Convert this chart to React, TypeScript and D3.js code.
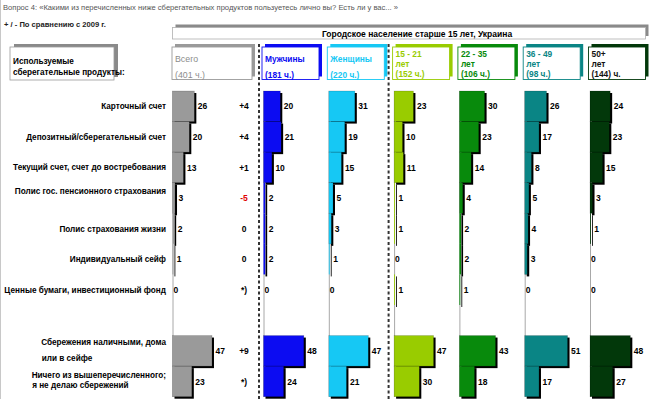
import React, { useEffect, useRef } from 'react';
import * as d3 from 'd3';

const question = 'Вопрос 4: «Какими из перечисленных ниже сберегательных продуктов пользуетесь лично вы? Есть ли у вас... »';
const compareNote = '+ / - По сравнению с 2009 г.';
const population = 'Городское население старше 15 лет, Украина';
const productsTitle = ['Используемые', 'сберегательные продукты:'];

const products = [
  ['Карточный счет'],
  ['Депозитный/сберегательный счет'],
  ['Текущий счет, счет до востребования'],
  ['Полис гос. пенсионного страхования'],
  ['Полис страхования жизни'],
  ['Индивидуальный сейф'],
  ['Ценные бумаги, инвестиционный фонд'],
  ['Сбережения наличными, дома', 'или в сейфе'],
  ['Ничего из вышеперечисленного;', 'я не делаю сбережений'],
];

const totalHeader = ['Всего', '(401 ч.)'];
const totalValues = [26, 20, 13, 3, 2, 1, 0, 47, 23];
const changeVs2009 = ['+4', '+4', '+1', '-5', '0', '0', '*)', '+9', '*)'];

const groupHeaders = [
  ['Мужчины', '(181 ч.)'],
  ['Женщины', '(220 ч.)'],
  ['15 - 21', 'лет', '(152 ч.)'],
  ['22 - 35', 'лет', '(106 ч.)'],
  ['36 - 49', 'лет', '(98 ч.)'],
  ['50+', 'лет', '(144) ч.'],
];
const men = [20, 21, 10, 2, 2, 2, 0, 48, 24];
const women = [31, 19, 15, 5, 3, 1, 0, 47, 21];
const age15to21 = [23, 10, 11, 1, 1, 0, 1, 47, 30];
const age22to35 = [30, 23, 14, 4, 2, 2, 1, 43, 18];
const age36to49 = [26, 17, 8, 5, 4, 3, 0, 51, 17];
const age50plus = [24, 23, 15, 3, 1, 0, 0, 48, 27];
const groupValues = [men, women, age15to21, age22to35, age36to49, age50plus];

const totalColor = '#9a9a9a';
const groupColors = ['#0c0cf2', '#16c8f4', '#99cc00', '#088a0c', '#0a8585', '#02380a'];
const groupTextColors = ['#0c0cf2', '#16c8f4', '#99cc00', '#088a0c', '#0a8585', '#111111'];

const FONT = 'Arial, "Liberation Sans", sans-serif';

export default function App() {
  const ref = useRef<SVGSVGElement>(null);

  useEffect(() => {
    const svg = d3.select(ref.current);
    svg.selectAll('*').remove();

    // rows: 7 products, an empty slot, then 2 more
    const rowKeys = products.map((_, i) => 'r' + i);
    const domain = [...rowKeys.slice(0, 7), 'gap', ...rowKeys.slice(7)];
    const y = d3.scaleBand<string>().domain(domain).range([91, 396.7]).padding(0);
    const w = d3.scaleLinear().domain([0, 100]).range([0, 84]);
    const xTotal = 172.5;
    const xGroup = d3.scaleLinear().domain([0, groupValues.length - 1]).range([263.5, 590]);
    const xChange = xTotal + 71.5;

    // page edge
    svg.append('line').attr('x1', 0.5).attr('x2', 0.5).attr('y1', 0).attr('y2', 399)
      .attr('stroke', '#c8c8c8');

    svg.append('text').attr('x', 3).attr('y', 10).attr('font-size', 7.6)
      .attr('fill', '#555').attr('font-family', FONT).text(question);
    svg.append('text').attr('x', 4).attr('y', 27).attr('font-size', 7.6).attr('font-weight', 'bold')
      .attr('fill', '#222').attr('font-family', FONT).text(compareNote);

    // main header box
    const mh = { x: xTotal, y: 27.5, w: 473, h: 11.5 };
    svg.append('rect').attr('x', mh.x + 3).attr('y', mh.y - 3).attr('width', mh.w).attr('height', mh.h)
      .attr('fill', '#8a8a8a');
    svg.append('rect').attr('x', mh.x).attr('y', mh.y).attr('width', mh.w).attr('height', mh.h)
      .attr('fill', '#fff').attr('stroke', '#b0b0b0').attr('stroke-width', 0.8);
    svg.append('text').attr('x', 417).attr('y', 37).attr('text-anchor', 'middle')
      .attr('font-size', 8.5).attr('font-weight', 'bold').attr('font-family', FONT).attr('fill', '#000')
      .text(population);

    // header box helper
    const headerBox = (x: number, bw: number, color: string, textColor: string, lines: string[], bold: boolean) => {
      const by = 47, bh = 32.5;
      svg.append('rect').attr('x', x + 3).attr('y', by - 3).attr('width', bw).attr('height', bh).attr('fill', color);
      svg.append('rect').attr('x', x).attr('y', by).attr('width', bw).attr('height', bh)
        .attr('fill', '#fff').attr('stroke', color).attr('stroke-width', 0.9);
      const ys = lines.length === 3 ? [56.5, 66.5, 77] : [62, 78];
      lines.forEach((t, i) => {
        svg.append('text').attr('x', x + 3).attr('y', ys[i]).attr('font-size', bold ? 8.4 : 8.8)
          .attr('font-weight', bold ? 'bold' : 'normal').attr('font-family', FONT)
          .attr('fill', textColor).text(t);
      });
    };

    // left header
    svg.append('rect').attr('x', 14).attr('y', 44).attr('width', 104).attr('height', 33).attr('fill', '#8a8a8a');
    svg.append('rect').attr('x', 10).attr('y', 47).attr('width', 104).attr('height', 33)
      .attr('fill', '#fff').attr('stroke', '#999').attr('stroke-width', 0.8);
    productsTitle.forEach((t, i) => {
      svg.append('text').attr('x', 13).attr('y', 63.5 + i * 11.5).attr('font-size', 8.2)
        .attr('font-weight', 'bold').attr('font-family', FONT).attr('fill', '#000').text(t);
    });

    headerBox(xTotal - 0.5, 80, totalColor, '#8c8c8c', totalHeader, false);
    groupHeaders.forEach((lines, gi) => {
      headerBox(xGroup(gi) - 1.5, 57, groupColors[gi], groupTextColors[gi], lines, true);
    });

    // dashed separators
    [xGroup(0) - 4.5, xGroup(2) - 5.5].forEach((sx) => {
      svg.append('line').attr('x1', sx).attr('x2', sx).attr('y1', 44).attr('y2', 399)
        .attr('stroke', '#333').attr('stroke-width', 2).attr('stroke-dasharray', '3,2.5');
    });

    // row labels
    const labelShift = [0, 0, 0, -7, 0, 0, 0, 0, 0];
    const leading = [0, 0, 0, 0, 0, 0, 0, 15.7, 9.2];
    const labels = svg.append('g').attr('font-family', FONT).attr('font-size', 8.2)
      .attr('font-weight', 'bold').attr('fill', '#000');
    products.forEach((lines, i) => {
      const cy = (y(rowKeys[i]) as number) + y.bandwidth() / 2 + labelShift[i];
      if (lines.length === 1) {
        labels.append('text').attr('x', 166).attr('y', cy + 3).attr('text-anchor', 'end').text(lines[0]);
      } else {
        const top = cy - leading[i] / 2 + 3 - (i === 7 ? 0.8 : 1.5);
        const first = labels.append('text').attr('x', 166).attr('y', top).attr('text-anchor', 'end').text(lines[0]);
        const len = (first.node() as SVGTextElement).getComputedTextLength();
        labels.append('text').attr('x', 166 - len + 0.5).attr('y', top + leading[i]).text(lines[1]);
      }
    });

    // columns of bars
    const drawColumn = (x0: number, values: number[], color: string) => {
      const g = svg.append('g');
      g.append('line').attr('x1', x0 + 0.5).attr('x2', x0 + 0.5).attr('y1', y.range()[0]).attr('y2', y.range()[1])
        .attr('stroke', '#a8a8a8').attr('stroke-width', 1);
      values.forEach((v, i) => {
        const by = y(rowKeys[i]) as number;
        const bw = w(v);
        if (v > 0) {
          g.append('rect').attr('x', x0 + 2).attr('y', by + 2).attr('width', bw).attr('height', y.bandwidth())
            .attr('fill', '#000');
          g.append('rect').attr('x', x0).attr('y', by).attr('width', bw).attr('height', y.bandwidth())
            .attr('fill', color).attr('stroke', 'rgba(0,0,0,0.25)').attr('stroke-width', bw > 2 ? 0.6 : 0);
        }
        g.append('text').attr('x', x0 + bw + (v > 0 ? 3.5 : 1)).attr('y', by + y.bandwidth() / 2 + 3.2)
          .attr('font-size', 8.5).attr('font-weight', 'bold').attr('font-family', FONT).attr('fill', '#000')
          .text(v);
      });
    };

    drawColumn(xTotal, totalValues, totalColor);
    groupValues.forEach((vals, gi) => drawColumn(xGroup(gi), vals, groupColors[gi]));

    changeVs2009.forEach((c, i) => {
      const cy = (y(rowKeys[i]) as number) + y.bandwidth() / 2;
      svg.append('text').attr('x', xChange).attr('y', cy + 3.2).attr('text-anchor', 'middle')
        .attr('font-size', 8.5).attr('font-weight', 'bold').attr('font-family', FONT)
        .attr('fill', c.startsWith('-') ? '#e00000' : '#000').text(c);
    });
  }, []);

  return (
    <div style={{ position: 'absolute', left: 0, top: 0 }}>
      <svg ref={ref} width={650} height={399} style={{ display: 'block', background: '#fff' }} />
    </div>
  );
}
